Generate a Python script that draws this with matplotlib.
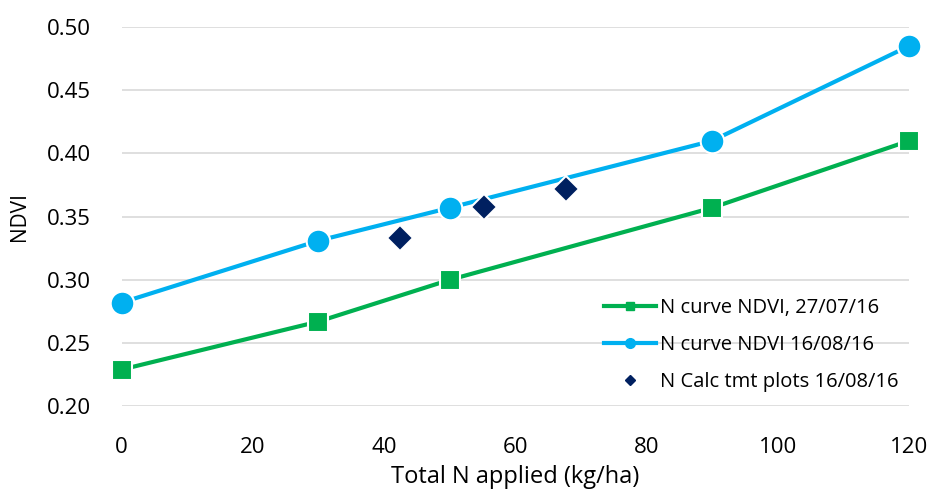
import matplotlib
matplotlib.use("Agg")
import matplotlib.pyplot as plt
from matplotlib.lines import Line2D

# data
n_rates = [0, 30, 50, 90, 120]
ndvi_jul = [0.229, 0.267, 0.300, 0.357, 0.410]
ndvi_aug = [0.282, 0.331, 0.357, 0.410, 0.485]
tmt_n = [42.5, 55.2, 67.7]
tmt_ndvi = [0.333, 0.358, 0.372]

green = "#00b050"
blue = "#00b0f0"
navy = "#002060"

plt.rcParams["font.family"] = ["Open Sans", "DejaVu Sans"]

fig = plt.figure(figsize=(9.35, 4.93), dpi=100)
ax = fig.add_axes([0.130, 0.176, 0.842, 0.769])

ax.plot(n_rates, ndvi_jul, color=green, lw=3, marker="s", ms=15,
        mec="white", mew=1.5, zorder=3, clip_on=False)
ax.plot(n_rates, ndvi_aug, color=blue, lw=3, marker="o", ms=17,
        mec="white", mew=1.5, zorder=3, clip_on=False)
ax.plot(tmt_n, tmt_ndvi, ls="none", color=navy, marker="D", ms=13,
        mec="white", mew=1.5, zorder=4, clip_on=False)

ax.set_xlim(0, 120)
ax.set_ylim(0.20, 0.50)
ax.set_xticks(range(0, 121, 20))
ax.set_yticks([0.20, 0.25, 0.30, 0.35, 0.40, 0.45, 0.50])
ax.set_yticklabels([f"{v:.2f}" for v in ax.get_yticks()])
ax.grid(axis="y", color="#d9d9d9", lw=1.2)
ax.set_axisbelow(True)
for s in ax.spines.values():
    s.set_visible(False)
ax.tick_params(length=0, labelsize=16)
ax.tick_params(axis="x", pad=22)
ax.tick_params(axis="y", pad=22)
ax.set_xlabel("Total N applied (kg/ha)", fontsize=17, labelpad=5)
ax.set_ylabel("NDVI", fontsize=15, labelpad=12)

handles = [
    Line2D([], [], color=green, lw=3, marker="s", ms=6),
    Line2D([], [], color=blue, lw=3, marker="o", ms=7),
    Line2D([], [], ls="none", color=navy, marker="D", ms=5),
]
labels = ["N curve NDVI, 27/07/16", "N curve NDVI 16/08/16",
          "N Calc tmt plots 16/08/16"]
ax.legend(handles, labels, loc="lower right", bbox_to_anchor=(1.01, -0.01),
          frameon=False, fontsize=14.5, handlelength=2.6, handletextpad=0.2,
          labelspacing=0.85)

fig.savefig("out.png", dpi=100)
